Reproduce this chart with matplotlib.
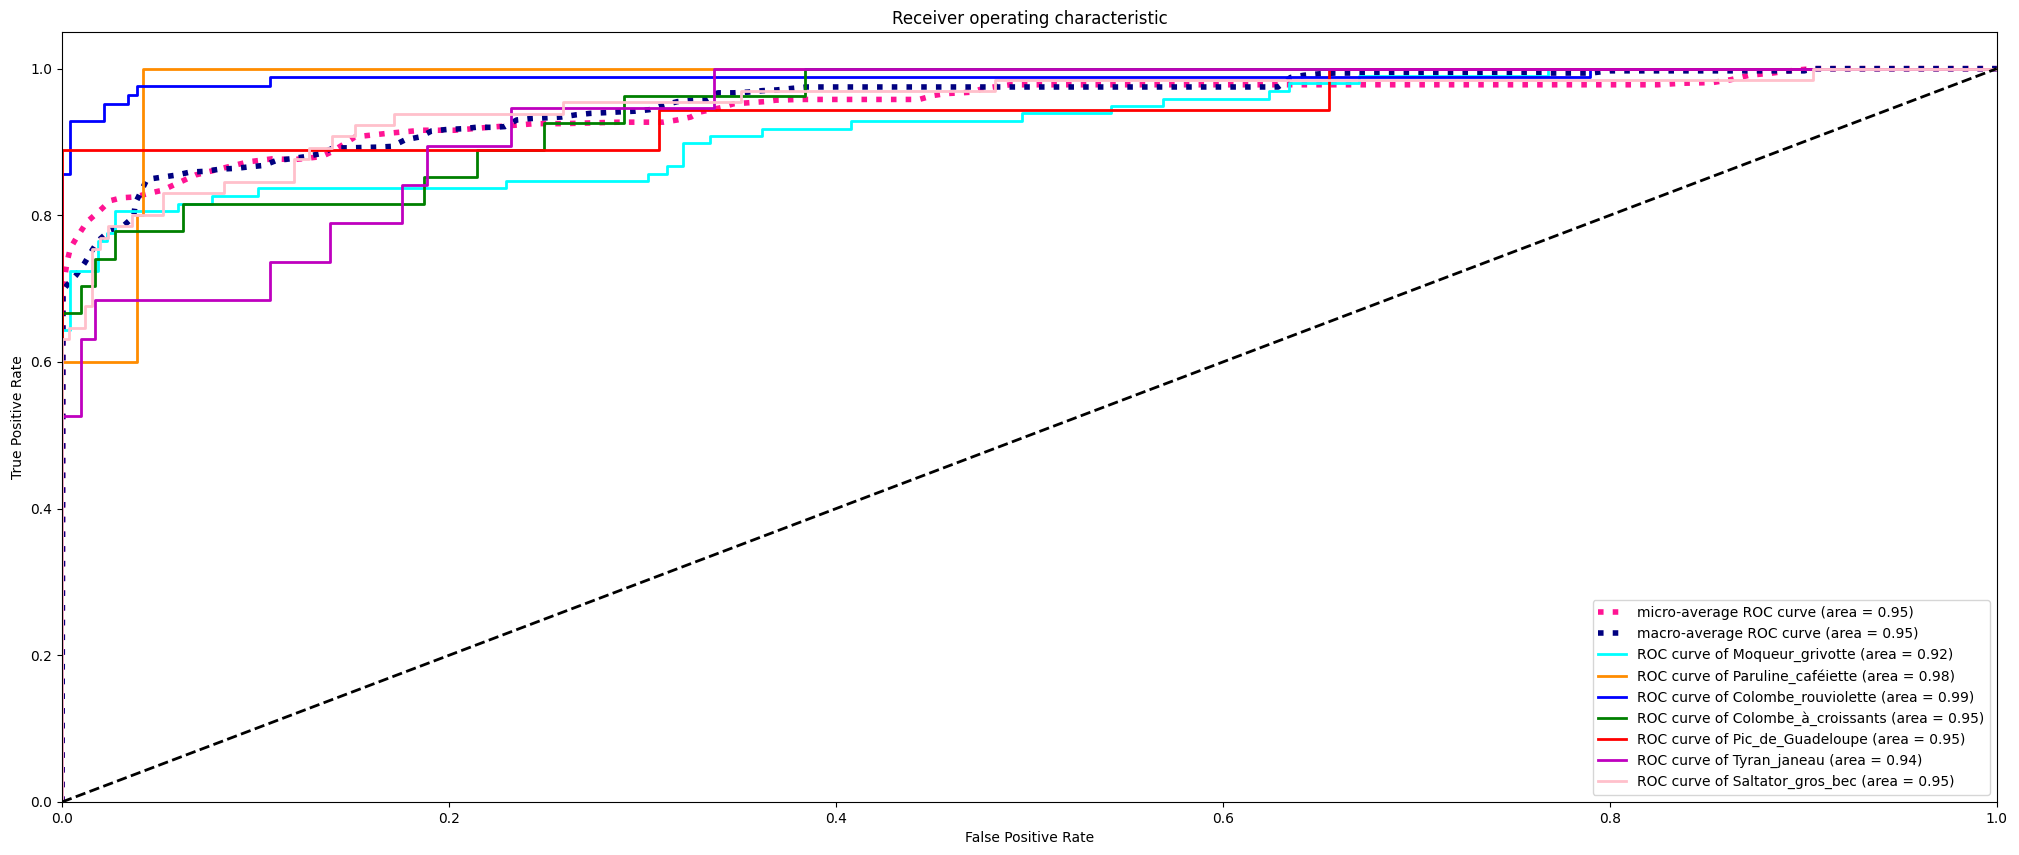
import numpy as np
import matplotlib
matplotlib.use("Agg")
import matplotlib.pyplot as plt

# class names and AUCs as shown in the legend
CLASS_NAMES = ['Moqueur_grivotte', 'Paruline_caféiette', 'Colombe_rouviolette', 'Colombe_à_croissants',
               'Pic_de_Guadeloupe', 'Tyran_janeau', 'Saltator_gros_bec']
CLASS_AUC = [0.92, 0.98, 0.99, 0.95, 0.95, 0.94, 0.95]
COLORS = ['aqua', 'darkorange', 'blue', 'green', 'red', 'm', 'pink']
MICRO_AUC = 0.95
MACRO_AUC = 0.95

# per-class ROC points (fpr where tpr jumps, tpr after the jump)
fpr_moqueur = [0, 0, 0.0043, 0.0186, 0.0233, 0.0276, 0.060, 0.0775, 0.1011, 0.2295, 0.3028, 0.3125, 0.321,
               0.335, 0.362, 0.408, 0.496, 0.542, 0.569, 0.624, 0.634, 0.6706, 0.768, 1.0]
tpr_moqueur = [0, 0.643, 0.724, 0.765, 0.776, 0.806, 0.816, 0.827, 0.837, 0.847, 0.857, 0.867, 0.898,
               0.908, 0.918, 0.929, 0.939, 0.949, 0.959, 0.969, 0.980, 0.990, 1.0, 1.0]
fpr_paruline = [0, 0, 0.0388, 0.0417, 1.0]
tpr_paruline = [0, 0.6, 0.8, 1.0, 1.0]
fpr_rouviolette = [0, 0, 0.0043, 0.0215, 0.034, 0.0386, 0.1077, 0.79, 1.0]
tpr_rouviolette = [0, 0.857, 0.929, 0.952, 0.964, 0.976, 0.988, 1.0, 1.0]
fpr_croissants = [0, 0, 0.010, 0.0172, 0.0276, 0.0624, 0.187, 0.2145, 0.249, 0.2904, 0.384, 1.0]
tpr_croissants = [0, 0.667, 0.704, 0.741, 0.778, 0.815, 0.852, 0.889, 0.926, 0.963, 1.0, 1.0]
fpr_pic = [0, 0, 0.3085, 0.6548, 1.0]
tpr_pic = [0, 0.889, 0.944, 1.0, 1.0]
fpr_tyran = [0, 0, 0.010, 0.0169, 0.1077, 0.1383, 0.1757, 0.1886, 0.2322, 0.337, 1.0]
tpr_tyran = [0, 0.526, 0.632, 0.684, 0.737, 0.789, 0.842, 0.895, 0.947, 1.0, 1.0]
fpr_saltator = [0, 0, 0.0038, 0.012, 0.0155, 0.0198, 0.024, 0.036, 0.052, 0.0835, 0.1197, 0.1275, 0.1395,
                0.1516, 0.1714, 0.2587, 0.3507, 0.4824, 0.905, 1.0]
tpr_saltator = [0, 0.631, 0.646, 0.677, 0.754, 0.769, 0.785, 0.8, 0.831, 0.846, 0.877, 0.892, 0.908,
                0.923, 0.938, 0.954, 0.969, 0.985, 1.0, 1.0]

# micro / macro average curves
fpr_micro = [0, 0.0005, 0.0026, 0.0043, 0.0072, 0.0129, 0.0198, 0.025, 0.031, 0.0379, 0.0448, 0.0517, 0.069,
             0.0827, 0.0965, 0.1085, 0.12, 0.134, 0.139, 0.1516, 0.169, 0.186, 0.203, 0.2205, 0.2446, 0.259,
             0.288, 0.3108, 0.318, 0.325, 0.330, 0.341, 0.347, 0.363, 0.369, 0.381, 0.443, 0.4508, 0.457,
             0.4646, 0.4705, 0.476, 0.4843, 0.49, 0.8247, 0.8365, 0.853, 0.8626, 0.872, 0.884, 0.896, 0.905, 1.0]
tpr_micro = [0, 0.70, 0.736, 0.755, 0.768, 0.791, 0.807, 0.82, 0.824, 0.825, 0.83, 0.834, 0.855,
             0.864, 0.873, 0.877, 0.876, 0.88, 0.886, 0.907, 0.912, 0.916, 0.916, 0.92, 0.925, 0.925,
             0.927, 0.927, 0.930, 0.934, 0.941, 0.947, 0.952, 0.955, 0.957, 0.958, 0.958, 0.9636, 0.966,
             0.967, 0.968, 0.973, 0.976, 0.978, 0.978, 0.980, 0.981, 0.985, 0.991, 0.994, 0.998, 1.0, 1.0]
fpr_macro = [0, 0.0005, 0.0017, 0.0072, 0.0117, 0.0155, 0.019, 0.025, 0.0319, 0.037, 0.038, 0.0439, 0.0517,
             0.0594, 0.0663, 0.074, 0.0818, 0.0896, 0.0965, 0.1042, 0.111, 0.118, 0.1258, 0.1335, 0.1404,
             0.148, 0.1637, 0.1705, 0.1774, 0.1852, 0.191, 0.1988, 0.2066, 0.214, 0.222, 0.229, 0.235,
             0.2427, 0.2505, 0.258, 0.2656, 0.273, 0.281, 0.288, 0.296, 0.3035, 0.3108, 0.318, 0.3254,
             0.333, 0.339, 0.347, 0.3547, 0.362, 0.3694, 0.377, 0.3849, 0.6285, 0.635, 0.642, 0.65, 0.658,
             0.79, 0.80, 0.9005, 0.905, 1.0]
tpr_macro = [0, 0.689, 0.702, 0.718, 0.735, 0.752, 0.766, 0.78, 0.786, 0.798, 0.817, 0.849, 0.852,
             0.855, 0.859, 0.86, 0.863, 0.864, 0.866, 0.868, 0.875, 0.877, 0.88, 0.884, 0.892,
             0.892, 0.893, 0.894, 0.903, 0.907, 0.915, 0.917, 0.918, 0.92, 0.92, 0.921, 0.93,
             0.932, 0.933, 0.934, 0.937, 0.939, 0.94, 0.941, 0.942, 0.944, 0.95, 0.955, 0.957,
             0.958, 0.967, 0.967, 0.968, 0.97, 0.971, 0.973, 0.975, 0.975, 0.988, 0.991, 0.993, 0.994,
             0.994, 0.997, 0.997, 1.0, 1.0]

CLASS_FPR = [fpr_moqueur, fpr_paruline, fpr_rouviolette, fpr_croissants, fpr_pic, fpr_tyran, fpr_saltator]
CLASS_TPR = [tpr_moqueur, tpr_paruline, tpr_rouviolette, tpr_croissants, tpr_pic, tpr_tyran, tpr_saltator]


if __name__ == "__main__":
    fig = plt.figure(figsize=(20.19, 8.55), dpi=100)
    ax = fig.add_subplot(111)
    fig.subplots_adjust(left=0.0307, right=0.989, bottom=0.062, top=0.9626)

    ax.plot(fpr_micro, tpr_micro, label='micro-average ROC curve (area = {0:0.2f})'.format(MICRO_AUC),
            color='deeppink', linestyle=':', linewidth=4)
    ax.plot(fpr_macro, tpr_macro, label='macro-average ROC curve (area = {0:0.2f})'.format(MACRO_AUC),
            color='navy', linestyle=':', linewidth=4)

    for name, auc, color, fpr, tpr in zip(CLASS_NAMES, CLASS_AUC, COLORS, CLASS_FPR, CLASS_TPR):
        ax.plot(fpr, tpr, color=color, lw=2, drawstyle='steps-post',
                label='ROC curve of {0} (area = {1:0.2f})'.format(name, auc))

    ax.plot([0, 1], [0, 1], 'k--', lw=2)
    ax.set_xlim([0.0, 1.0])
    ax.set_ylim([0.0, 1.05])
    ax.set_xlabel('False Positive Rate')
    ax.set_ylabel('True Positive Rate')
    ax.set_title('Receiver operating characteristic')
    ax.legend(loc="lower right")
    fig.savefig("out.png", dpi=100)
